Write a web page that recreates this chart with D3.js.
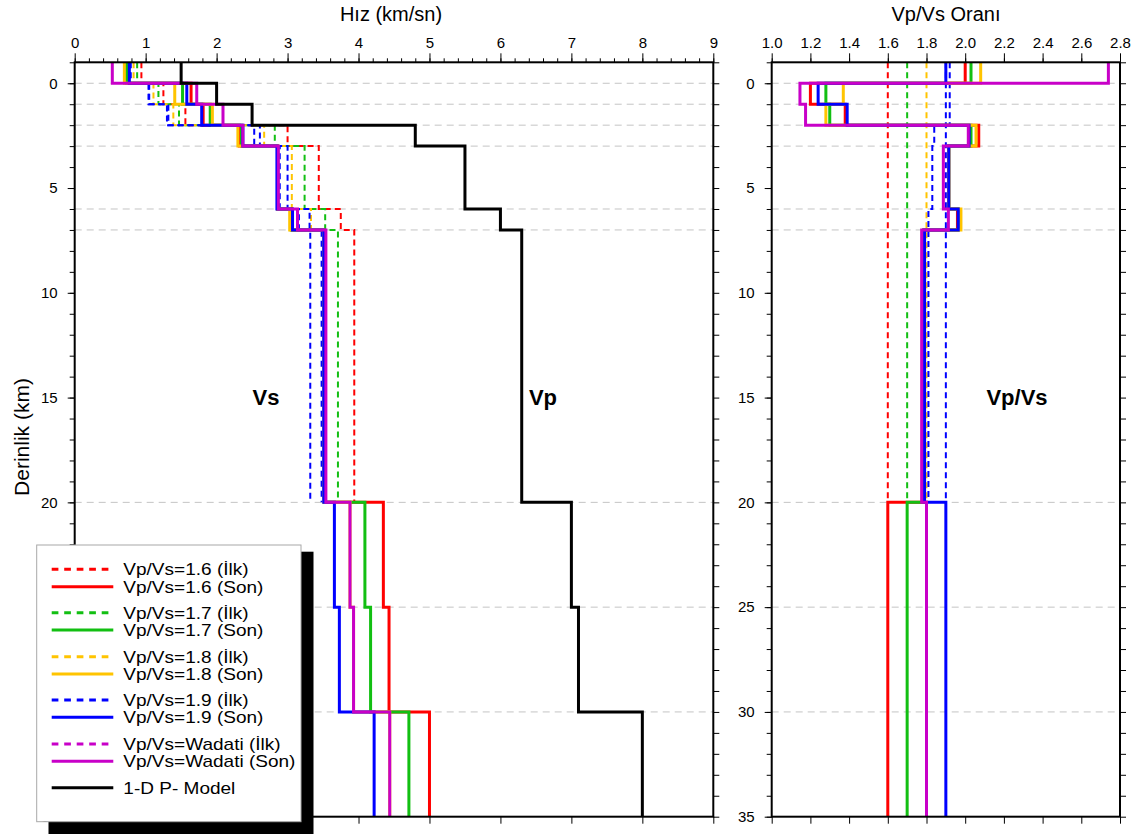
<!DOCTYPE html>
<html>
<head>
<meta charset="utf-8">
<script src="https://cdn.jsdelivr.net/npm/d3@7"></script>
<style>
  html, body { margin: 0; padding: 0; background: #fff; }
  svg { display: block; font-family: "Liberation Sans", Arial, sans-serif; }
</style>
</head>
<body>
<svg id="chart" width="1142" height="834"></svg>
<script>
// Layer boundaries of the 1-D model (km)
const layerTop    = [-1, 0, 1, 2, 3, 6, 7, 20, 25, 30];
const layerBottom = [ 0, 1, 2, 3, 6, 7, 20, 25, 30, 35];
// boundaries marked with grey dashed lines
const boundaryDepths = [0, 1, 2, 3, 6, 7, 20, 25, 30];

// P-wave velocity model (km/s)
const vpModel = [1.5, 2.0, 2.5, 4.8, 5.5, 6.0, 6.3, 7.0, 7.1, 8.0];

// Initial S velocities (first 7 layers, down to 20 km)
const vsIlk16 = [0.94, 1.25, 1.56, 3.00, 3.44, 3.75, 3.94];
const vsIlk17 = [0.88, 1.18, 1.47, 2.82, 3.24, 3.53, 3.71];
const vsIlk18 = [0.83, 1.11, 1.39, 2.67, 3.06, 3.33, 3.50];
const vsIlk19 = [0.79, 1.05, 1.32, 2.53, 2.89, 3.16, 3.32];
const vsIlkW  = [0.78, 1.04, 1.30, 2.61, 3.00, 3.31, 3.48];

// Final S velocities
const vsSon16 = [0.75, 1.64, 1.81, 2.32, 2.86, 3.06, 3.52, 4.35, 4.43, 5.00];
const vsSon17 = [0.73, 1.52, 1.91, 2.35, 2.86, 3.05, 3.52, 4.09, 4.17, 4.71];
const vsSon18 = [0.70, 1.41, 1.94, 2.30, 2.86, 3.03, 3.51, 3.88, 3.93, 4.44];
const vsSon19 = [0.77, 1.58, 1.79, 2.37, 2.85, 3.07, 3.51, 3.66, 3.73, 4.22];
const vsSonW  = [0.53, 1.72, 2.09, 2.37, 2.87, 3.14, 3.54, 3.88, 3.93, 4.44];

// Initial Vp/Vs ratios (down to 20 km)
const ratioIlk16 = [1.6, 1.6, 1.6, 1.6, 1.6, 1.6, 1.6];
const ratioIlk17 = [1.7, 1.7, 1.7, 1.7, 1.7, 1.7, 1.7];
const ratioIlk18 = [1.8, 1.8, 1.8, 1.8, 1.8, 1.8, 1.8];
const ratioIlk19 = [1.9, 1.9, 1.9, 1.9, 1.9, 1.9, 1.9];
const ratioIlkW  = [1.92, 1.92, 1.92, 1.84, 1.83, 1.81, 1.81];

// Final Vp/Vs ratios
const ratioSon16 = [2.00, 1.20, 1.38, 2.07, 1.915, 1.960, 1.785, 1.6, 1.6, 1.6];
const ratioSon17 = [2.03, 1.28, 1.30, 2.03, 1.915, 1.965, 1.785, 1.7, 1.7, 1.7];
const ratioSon18 = [2.08, 1.37, 1.28, 2.056, 1.915, 1.978, 1.790, 1.8, 1.8, 1.8];
const ratioSon19 = [1.90, 1.24, 1.39, 2.02, 1.915, 1.964, 1.790, 1.9, 1.9, 1.9];
const ratioSonW  = [2.74, 1.146, 1.175, 2.016, 1.887, 1.913, 1.775, 1.8, 1.8, 1.8];

const velTicks = [0, 1, 2, 3, 4, 5, 6, 7, 8, 9];
const ratioTicks = [1.0, 1.2, 1.4, 1.6, 1.8, 2.0, 2.2, 2.4, 2.6, 2.8];
const depthTicks = [0, 5, 10, 15, 20, 25, 30, 35];

const legendLabels = [
  "Vp/Vs=1.6 (İlk)", "Vp/Vs=1.6 (Son)",
  "Vp/Vs=1.7 (İlk)", "Vp/Vs=1.7 (Son)",
  "Vp/Vs=1.8 (İlk)", "Vp/Vs=1.8 (Son)",
  "Vp/Vs=1.9 (İlk)", "Vp/Vs=1.9 (Son)",
  "Vp/Vs=Wadati (İlk)", "Vp/Vs=Wadati (Son)",
  "1-D P- Model"
];

const RED = "#ff0000", GREEN = "#12bf12", YELLOW = "#ffc400", BLUE = "#0000ff", MAG = "#c800c8";

const svg = d3.select("#chart");
svg.append("rect").attr("width", 1142).attr("height", 834).attr("fill", "#fff");

const y = d3.scaleLinear().domain([-1, 35]).range([62.3, 816.7]);
const xL = d3.scaleLinear().domain([0, 9]).range([74.7, 713.3]);
const xR = d3.scaleLinear().domain([1.0, 2.8]).range([771.7, 1120]);

// step profile: a vertical segment per layer, joined at the boundaries
function stepPoints(vals) {
  const pts = [];
  vals.forEach((v, i) => {
    pts.push([v, layerTop[i]]);
    pts.push([v, layerBottom[i]]);
  });
  return pts;
}
function drawStep(g, x, vals, color, dashed, width) {
  const line = d3.line().x(d => x(d[0])).y(d => y(d[1]));
  g.append("path")
    .attr("d", line(stepPoints(vals)))
    .attr("fill", "none")
    .attr("stroke", color)
    .attr("stroke-width", width || (dashed ? 2 : 3))
    .attr("stroke-dasharray", dashed ? "6,4" : null)
    .attr("stroke-linejoin", "miter");
}

// grey dashed boundary lines over both panels
function gridLines(x0, x1) {
  svg.append("g").selectAll("line").data(boundaryDepths).join("line")
    .attr("x1", x0).attr("x2", x1)
    .attr("y1", d => y(d)).attr("y2", d => y(d))
    .attr("stroke", "#c4c4c4").attr("stroke-width", 1)
    .attr("stroke-dasharray", "7,5");
}
gridLines(xL(0), xL(9));
gridLines(xR(1.0), xR(2.8));

// ---- Velocity panel ----
const gL = svg.append("g");
drawStep(gL, xL, vsIlk16, RED, true);
drawStep(gL, xL, vsIlk17, GREEN, true);
drawStep(gL, xL, vsIlk18, YELLOW, true);
drawStep(gL, xL, vsIlk19, BLUE, true);
drawStep(gL, xL, vsIlkW, BLUE, true);
drawStep(gL, xL, vsSon16, RED, false);
drawStep(gL, xL, vsSon17, GREEN, false);
drawStep(gL, xL, vsSon18, YELLOW, false);
drawStep(gL, xL, vsSon19, BLUE, false);
drawStep(gL, xL, vsSonW, MAG, false);
drawStep(gL, xL, vpModel, "#000", false);

// ---- Ratio panel ----
const gR = svg.append("g");
drawStep(gR, xR, ratioIlk16, RED, true);
drawStep(gR, xR, ratioIlk17, GREEN, true);
drawStep(gR, xR, ratioIlk18, YELLOW, true);
drawStep(gR, xR, ratioIlk19, BLUE, true);
drawStep(gR, xR, ratioIlkW, BLUE, true);
drawStep(gR, xR, ratioSon16, RED, false);
drawStep(gR, xR, ratioSon17, GREEN, false);
drawStep(gR, xR, ratioSon18, YELLOW, false);
drawStep(gR, xR, ratioSon19, BLUE, false);
drawStep(gR, xR, ratioSonW, MAG, false);

// ---- Axes ----
const minorDepth = d3.range(-1, 36, 1);
function styleAxis(g, fs) {
  g.select(".domain").remove();
  g.selectAll("line").attr("stroke", "#000").attr("stroke-width", 1);
  g.selectAll("text").attr("font-size", fs).attr("fill", "#000")
    .attr("font-family", "'Liberation Sans', Arial, sans-serif");
}
function frameAxes(x, x0, x1, majorX, minorX, fmt) {
  // top
  styleAxis(svg.append("g").attr("transform", `translate(0,${y(-1)})`)
    .call(d3.axisTop(x).tickValues(minorX).tickSize(4).tickFormat("")), 14);
  styleAxis(svg.append("g").attr("transform", `translate(0,${y(-1)})`)
    .call(d3.axisTop(x).tickValues(majorX).tickSize(9).tickPadding(5).tickFormat(fmt)), 15);
  // bottom
  styleAxis(svg.append("g").attr("transform", `translate(0,${y(35)})`)
    .call(d3.axisBottom(x).tickValues(majorX).tickSize(7).tickFormat("")), 14);
  // left
  styleAxis(svg.append("g").attr("transform", `translate(${x0},0)`)
    .call(d3.axisLeft(y).tickValues(minorDepth).tickSize(5).tickFormat("")), 14);
  styleAxis(svg.append("g").attr("transform", `translate(${x0},0)`)
    .call(d3.axisLeft(y).tickValues(depthTicks).tickSize(7).tickPadding(10).tickFormat(d3.format("d"))), 15);
  // right
  styleAxis(svg.append("g").attr("transform", `translate(${x1},0)`)
    .call(d3.axisRight(y).tickValues(minorDepth).tickSize(6).tickFormat("")), 14);
  // frame
  svg.append("rect").attr("x", x0).attr("y", y(-1))
    .attr("width", x1 - x0).attr("height", y(35) - y(-1))
    .attr("fill", "none").attr("stroke", "#000").attr("stroke-width", 2);
}
frameAxes(xL, xL(0), xL(9), velTicks, d3.range(0, 9.01, 0.2).map(d => +d.toFixed(1)), d3.format("d"));
frameAxes(xR, xR(1.0), xR(2.8), ratioTicks, ratioTicks, d3.format(".1f"));

// ---- Titles ----
svg.append("text").attr("x", 391).attr("y", 21).attr("text-anchor", "middle")
  .attr("font-size", 20).text("Hız (km/sn)");
svg.append("text").attr("x", 946).attr("y", 21).attr("text-anchor", "middle")
  .attr("font-size", 20).text("Vp/Vs Oranı");
svg.append("text").attr("transform", "translate(29,437) rotate(-90)")
  .attr("text-anchor", "middle").attr("font-size", 21).text("Derinlik (km)");

svg.append("text").attr("x", 266).attr("y", 405).attr("text-anchor", "middle")
  .attr("font-size", 22).attr("font-weight", "bold").text("Vs");
svg.append("text").attr("x", 543).attr("y", 405).attr("text-anchor", "middle")
  .attr("font-size", 22).attr("font-weight", "bold").text("Vp");
svg.append("text").attr("x", 1017).attr("y", 405).attr("text-anchor", "middle")
  .attr("font-size", 22).attr("font-weight", "bold").text("Vp/Vs");

// ---- Legend ----
const legendColors = [RED, RED, GREEN, GREEN, YELLOW, YELLOW, BLUE, BLUE, MAG, MAG, "#000"];
const legendDashed = [true, false, true, false, true, false, true, false, true, false, false];
const legendRowY = [569.3, 586.7, 612.7, 630, 656.7, 674, 700, 717.3, 744, 761.3, 787.7];

const lg = svg.append("g");
lg.append("rect").attr("x", 48.5).attr("y", 551.7).attr("width", 265).attr("height", 300).attr("fill", "#000");
lg.append("rect").attr("x", 36.7).attr("y", 545).attr("width", 264.3).attr("height", 276.7)
  .attr("fill", "#fff").attr("stroke", "#a8a8a8").attr("stroke-width", 1);
// labels are kept a touch smaller in height and stretched to the row width
legendLabels.forEach((lab, i) => {
  lg.append("line").attr("x1", 51.7).attr("x2", 113.3)
    .attr("y1", legendRowY[i]).attr("y2", legendRowY[i])
    .attr("stroke", legendColors[i]).attr("stroke-width", 3)
    .attr("stroke-dasharray", legendDashed[i] ? "6.7,5.8" : null);
  lg.append("text")
    .attr("transform", `translate(123.3,${legendRowY[i]}) scale(1.12,1)`)
    .attr("dy", "0.36em")
    .attr("font-size", 17).text(lab);
});
</script>
</body>
</html>
